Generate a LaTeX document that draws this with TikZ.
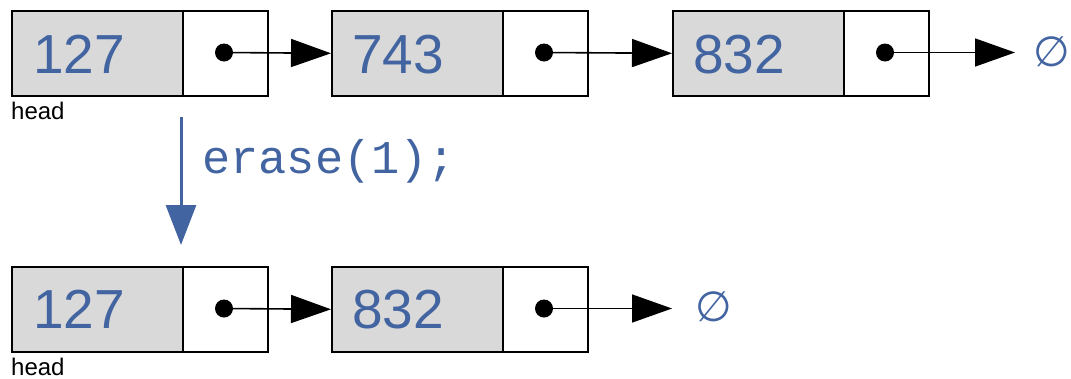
\documentclass[tikz,border=0pt]{standalone}
\usepackage{fontspec}
\setmainfont{Liberation Sans}
\newfontfamily\codefont{Liberation Mono}
\newfontfamily\symbfont{DejaVu Sans}
\usetikzlibrary{arrows.meta}
\definecolor{valblue}{RGB}{66,100,160}
\definecolor{cellgray}{RGB}{217,217,217}
\tikzset{
  valcell/.style={draw=black,line width=1.6pt,fill=cellgray,minimum width=171pt,minimum height=85pt,anchor=north west,inner sep=0pt},
  ptrcell/.style={draw=black,line width=1.6pt,fill=white,minimum width=85pt,minimum height=85pt,anchor=north west,inner sep=0pt},
  valtext/.style={text=valblue,font=\fontsize{55}{60}\selectfont,anchor=base west,inner sep=0pt},
  headtext/.style={font=\fontsize{24}{28}\selectfont,anchor=base west,inner sep=0pt},
  dot/.style={circle,fill=black,minimum size=18pt,inner sep=0pt},
  link/.style={line width=1.6pt,-{Triangle[length=40pt,width=28pt]}},
  nulltext/.style={text=valblue,font=\symbfont\fontsize{42}{44}\selectfont,inner sep=0pt},
  oparrow/.style={draw=valblue,line width=3pt,-{Triangle[length=40pt,width=30pt]}},
  optext/.style={text=valblue,font=\codefont\fontsize{47}{50}\selectfont,anchor=west,inner sep=0pt}
}
\begin{document}
\begin{tikzpicture}[x=1pt,y=-1pt]
\useasboundingbox (0,0) rectangle (1071,378);
% top row
\node[valcell] (a1) at (11,10) {};
\node[ptrcell] (p1) at (182,10) {};
\node[valcell] (a2) at (331,10) {};
\node[ptrcell] (p2) at (502,10) {};
\node[valcell] (a3) at (672,10) {};
\node[ptrcell] (p3) at (843,10) {};
\node[valtext] (t1) at (33,73) {127};
\node[valtext] (t2) at (352,73) {743};
\node[valtext] (t3) at (693,73) {832};
\node[headtext] (h1) at (11,119) {head};
\node[dot] (d1) at (224,52.5) {};
\node[dot] (d2) at (544,52.5) {};
\node[dot] (d3) at (885,52.5) {};
\coordinate (e1) at (1015,52.5);
\node[nulltext] (n1) at (1052,52) {∅};
\draw[link] (d1.center) -- (a2.west);
\draw[link] (d2.center) -- (a3.west);
\draw[link] (d3.center) -- (e1);
% operation
\coordinate (o1) at (181,117);
\coordinate (o2) at (181,245);
\draw[oparrow] (o1) -- (o2);
\node[optext] (op) at (202,161) {erase(1);};
% bottom row
\node[valcell] (b1) at (11,266) {};
\node[ptrcell] (q1) at (182,266) {};
\node[valcell] (b2) at (331,266) {};
\node[ptrcell] (q2) at (502,266) {};
\node[valtext] (u1) at (33,328) {127};
\node[valtext] (u2) at (352,328) {832};
\node[headtext] (h2) at (11,375) {head};
\node[dot] (f1) at (224,308.5) {};
\node[dot] (f2) at (544,308.5) {};
\coordinate (e2) at (672,308.5);
\node[nulltext] (n2) at (714,307) {∅};
\draw[link] (f1.center) -- (b2.west);
\draw[link] (f2.center) -- (e2);
\end{tikzpicture}
\end{document}
